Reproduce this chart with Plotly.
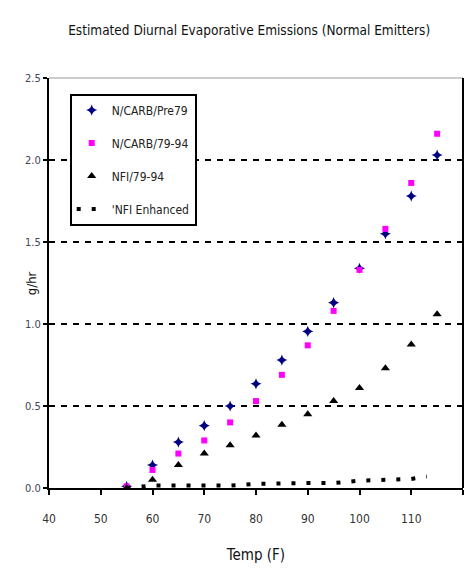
import plotly.graph_objects as go

temps = [55, 60, 65, 70, 75, 80, 85, 90, 95, 100, 105, 110, 115]
carb_pre79 = [0.01, 0.14, 0.28, 0.38, 0.50, 0.635, 0.78, 0.955, 1.13, 1.34, 1.55, 1.78, 2.03]
carb_7994 = [0.01, 0.11, 0.21, 0.29, 0.40, 0.53, 0.69, 0.87, 1.08, 1.33, 1.58, 1.86, 2.16]
nfi_7994 = [0.0, 0.05, 0.14, 0.21, 0.26, 0.32, 0.385, 0.45, 0.53, 0.61, 0.73, 0.875, 1.06]
enh_temps = [55, 60, 65, 70, 75, 80, 85, 90, 95, 100, 105, 110, 113]
nfi_enh = [0.0, 0.015, 0.015, 0.015, 0.015, 0.025, 0.03, 0.03, 0.03, 0.045, 0.05, 0.055, 0.07]

title_text = "Estimated Diurnal Evaporative Emissions (Normal Emitters)"
font_fam = "DejaVu Sans Condensed, Liberation Sans Narrow, sans-serif"

fig = go.Figure()
fig.add_trace(go.Scatter(x=temps, y=carb_pre79, mode="markers", name="N/CARB/Pre79",
                         legendgroup="a",
                         marker=dict(symbol="star-diamond", size=8, color="#000080",
                                     line=dict(width=0))))
fig.add_trace(go.Scatter(x=temps, y=carb_7994, mode="markers", name="N/CARB/79-94",
                         legendgroup="b",
                         marker=dict(symbol="square", size=6, color="#FF00FF",
                                     line=dict(width=0))))
fig.add_trace(go.Scatter(x=temps, y=nfi_7994, mode="markers", name="NFI/79-94",
                         legendgroup="c",
                         marker=dict(symbol="triangle-up", size=8, color="black",
                                     line=dict(width=0))))
fig.add_trace(go.Scatter(x=enh_temps, y=nfi_enh, mode="lines", name="'NFI Enhanced",
                         legendgroup="d",
                         line=dict(color="black", width=4, dash="4px,11px")))

fig.update_layout(
    width=471, height=573,
    margin=dict(l=49, r=8, t=78, b=85),
    paper_bgcolor="white", plot_bgcolor="white",
    font=dict(family=font_fam, color="black"),
    title=dict(text=title_text, x=0.529, xanchor="center", y=0.948, yanchor="middle",
               font=dict(size=13.5, family=font_fam, color="#111")),
    showlegend=True,
    legend=dict(x=0.05, y=0.962, xanchor="left", yanchor="top",
                bordercolor="black", borderwidth=2, bgcolor="white",
                font=dict(size=12, family=font_fam, color="#222"),
                itemwidth=30, tracegroupgap=14),
    shapes=[
        dict(type="line", xref="paper", yref="paper", x0=0, x1=1, y0=1, y1=1,
             line=dict(color="#999", width=1)),
        dict(type="line", xref="paper", yref="paper", x0=1, x1=1, y0=0, y1=1,
             line=dict(color="black", width=2)),
    ],
    annotations=[
        dict(text="g/hr", textangle=-90, xref="paper", yref="paper",
             x=-0.043, y=0.5, xanchor="center", yanchor="middle", showarrow=False,
             font=dict(size=13, family=font_fam, color="#111")),
    ],
)
fig.update_xaxes(range=[40, 120], tickmode="linear", tick0=40, dtick=10,
                 showgrid=False, zeroline=False, showline=True, linecolor="black",
                 linewidth=2, ticks="outside", ticklen=5, tickcolor="black", tickwidth=2,
                 ticklabelstandoff=14,
                 tickfont=dict(size=12, color="#333"),
                 title=dict(text="Temp (F)", font=dict(size=15, color="#111"), standoff=24))
fig.update_yaxes(range=[0, 2.5], tickmode="linear", tick0=0, dtick=0.5, tickformat=".1f",
                 showgrid=True, gridcolor="black", gridwidth=2, griddash="6px,6px",
                 zeroline=False, showline=True, linecolor="black", linewidth=2,
                 ticks="outside", ticklen=4, tickcolor="black", tickwidth=2,
                 tickfont=dict(size=11, color="#445"))

fig.write_html("out.html")
